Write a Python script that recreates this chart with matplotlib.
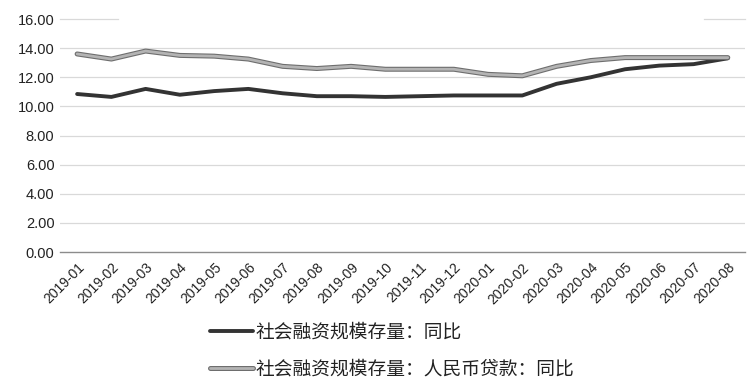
import matplotlib
matplotlib.use("Agg")
import matplotlib.pyplot as plt
import matplotlib.patheffects as pe

months = ["2019-01","2019-02","2019-03","2019-04","2019-05","2019-06","2019-07","2019-08",
          "2019-09","2019-10","2019-11","2019-12","2020-01","2020-02","2020-03","2020-04",
          "2020-05","2020-06","2020-07","2020-08"]
tsf = [10.85, 10.65, 11.2, 10.8, 11.05, 11.2, 10.9, 10.7, 10.7, 10.65, 10.7, 10.75,
       10.75, 10.75, 11.55, 12.0, 12.55, 12.8, 12.9, 13.3]
loans = [13.6, 13.25, 13.8, 13.5, 13.45, 13.25, 12.75, 12.6, 12.75, 12.55, 12.55, 12.55,
         12.2, 12.1, 12.75, 13.15, 13.35, 13.35, 13.35, 13.35]
label1 = "社会融资规模存量：同比"
label2 = "社会融资规模存量：人民币贷款：同比"
yticks = [0, 2, 4, 6, 8, 10, 12, 14, 16]

plt.rcParams['font.family'] = ['Liberation Sans', 'Noto Sans CJK SC', 'DejaVu Sans']

fig = plt.figure(figsize=(7.51, 3.88), dpi=100)
ax = fig.add_axes([0.0799, 0.3505, 0.912, 0.6005])
x = list(range(len(months)))

ax.plot(x, tsf, color="#333333", lw=2.8, solid_capstyle="round", label=label1, zorder=3)
ax.plot(x, loans, color="#b4b4b4", lw=2.0, solid_capstyle="round", label=label2, zorder=3,
        path_effects=[pe.Stroke(linewidth=3.6, foreground="#6e6e6e"), pe.Normal()])

ax.set_xlim(-0.5, len(months) - 0.5)
ax.set_ylim(0, 16)
ax.set_yticks(yticks)
ax.set_yticklabels([f"{v:.2f}" for v in yticks], fontsize=10.5, color="#222222")
ax.set_xticks(x)
ax.set_xticklabels(months, rotation=45, ha="right", rotation_mode="anchor", fontsize=10, color="#222222")
ax.tick_params(axis="both", length=0, pad=4)
ax.tick_params(axis="x", pad=6)

for v in yticks[1:-1]:
    ax.axhline(v, color="#d9d9d9", lw=0.9, zorder=1)
# top gridline only partly visible
ax.plot([-0.5, 1.2], [16, 16], color="#d9d9d9", lw=0.9, zorder=1, clip_on=False)
ax.plot([18.3, 19.5], [16, 16], color="#d9d9d9", lw=0.9, zorder=1, clip_on=False)

for s in ["top", "right", "left"]:
    ax.spines[s].set_visible(False)
ax.spines["bottom"].set_color("#8c8c8c")
ax.spines["bottom"].set_linewidth(1.0)

leg = fig.legend(loc="upper left", bbox_to_anchor=(0.279, 0.172), ncol=1, frameon=False,
                 prop={"family": ["Noto Sans CJK SC"], "size": 13.5}, handlelength=2.3,
                 handletextpad=0.15, labelspacing=0.85, borderpad=0, borderaxespad=0)
for t in leg.get_texts():
    t.set_color("#222222")

fig.savefig("out.png", dpi=100, facecolor="white")
